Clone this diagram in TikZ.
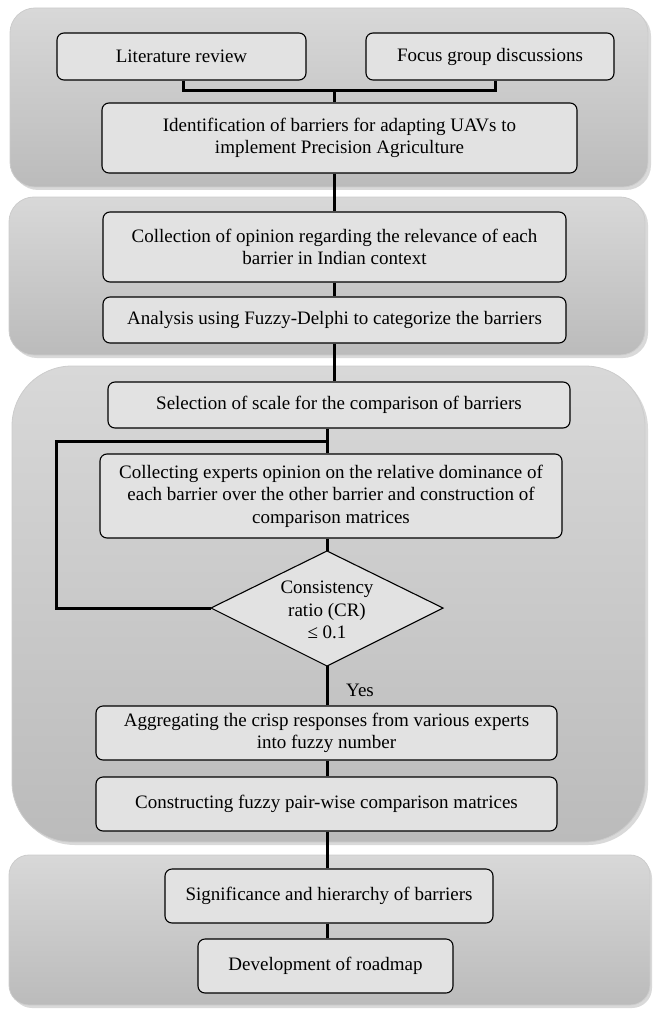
\documentclass[tikz,border=0pt]{standalone}
\usepackage{fontspec}
\setmainfont{Liberation Serif}
\usetikzlibrary{calc}
\definecolor{boxfill}{HTML}{E2E2E2}
\definecolor{ptop}{HTML}{D8D8D8}
\definecolor{pbot}{HTML}{BBBBBB}
\tikzset{
 stepbox/.style={draw=black, line width=1.1pt, rounded corners=7pt, fill=boxfill, align=center, inner sep=0pt, font=\fontsize{19}{22.5}\selectfont},
 conn/.style={line width=3pt, draw=black},
 panel/.style={top color=ptop, bottom color=pbot, draw=white!80!black, line width=0.8pt},
 shadowp/.style={fill=black, opacity=0.15},
 lbl/.style={inner sep=0pt, font=\fontsize{19}{22.5}\selectfont, align=center},
}
\begin{document}
\begin{tikzpicture}[x=1pt,y=-1pt]
\useasboundingbox (0,0) rectangle (653,1011);
% panels
\fill[shadowp, rounded corners=25pt] (13,11) rectangle (651,190);
\path[panel, rounded corners=25pt] (10,8) rectangle (648,187);
\fill[shadowp, rounded corners=25pt] (12,200) rectangle (648,358);
\path[panel, rounded corners=25pt] (9,197) rectangle (645,355);
\fill[shadowp, rounded corners=60pt] (15,369) rectangle (648,845);
\path[panel, rounded corners=60pt] (12,366) rectangle (645,842);
\fill[shadowp, rounded corners=20pt] (12,858) rectangle (652,1008);
\path[panel, rounded corners=20pt] (9,855) rectangle (650,1005);

% section 1
\node[stepbox, minimum width=249pt, minimum height=47pt] (lit) at (181.5,56.5) {Literature review};
\node[stepbox, minimum width=248pt, minimum height=47pt] (focus) at (490,56.5) {Focus group discussions};
\node[stepbox, minimum width=475pt, minimum height=70pt] (ident) at (339.5,138) {Identification of barriers for adapting UAVs to\\implement Precision Agriculture};

% section 2
\node[stepbox, minimum width=463pt, minimum height=70pt] (coll) at (334.5,247) {Collection of opinion regarding the relevance of each\\barrier in Indian context};
\node[stepbox, minimum width=463pt, minimum height=46pt] (anal) at (334.5,320) {Analysis using Fuzzy-Delphi to categorize the barriers};

% section 3
\node[stepbox, minimum width=462pt, minimum height=46pt] (sel) at (339,405) {Selection of scale for the comparison of barriers};
\node[stepbox, minimum width=462pt, minimum height=84pt] (colex) at (331,496) {Collecting experts opinion on the relative dominance of\\each barrier over the other barrier and construction of\\comparison matrices};
\coordinate (diaT) at (327,551);
\coordinate (diaR) at (443,608);
\coordinate (diaB) at (327,666);
\coordinate (diaL) at (211,608);
\draw[line width=1.1pt, fill=boxfill] (diaT) -- (diaR) -- (diaB) -- (diaL) -- cycle;
\node[lbl] (dia) at (327,610) {Consistency\\ratio (CR)\\≤ 0.1};
\node[lbl] (yes) at (360,690) {Yes};
\node[stepbox, minimum width=461pt, minimum height=54pt] (agg) at (326.5,733) {Aggregating the crisp responses from various experts\\into fuzzy number};
\node[stepbox, minimum width=461pt, minimum height=54pt] (cons) at (326.5,804) {Constructing fuzzy pair-wise comparison matrices};

% section 4
\node[stepbox, minimum width=328pt, minimum height=54pt] (sig) at (329,896) {Significance and hierarchy of barriers};
\node[stepbox, minimum width=255pt, minimum height=54pt] (dev) at (325.5,966) {Development of roadmap};

% connectors
\coordinate (c1) at (334,0);
\coordinate (c2) at (327,0);
\coordinate (j1) at (334,91);
\coordinate (lp) at (56,441);
\draw[conn] ([xshift=1.5pt]lit.south) |- (j1) -| ([xshift=5pt]focus.south);
\draw[conn] (j1) -- (j1 |- ident.north);
\draw[conn] (ident.south -| c1) -- (coll.north -| c1);
\draw[conn] (coll.south -| c1) -- (anal.north -| c1);
\draw[conn] (anal.south -| c1) -- (sel.north -| c1);
\draw[conn] (sel.south -| c2) -- (colex.north -| c2);
\draw[conn] (colex.south -| c2) -- (diaT);
\draw[conn] (diaL) -| (lp) -- (lp -| c2);
\draw[conn] (diaB) -- (agg.north -| c2);
\draw[conn] (agg.south -| c2) -- (cons.north -| c2);
\draw[conn] (cons.south -| c2) -- (sig.north -| c2);
\draw[conn] (sig.south -| c2) -- (dev.north -| c2);
\end{tikzpicture}
\end{document}
